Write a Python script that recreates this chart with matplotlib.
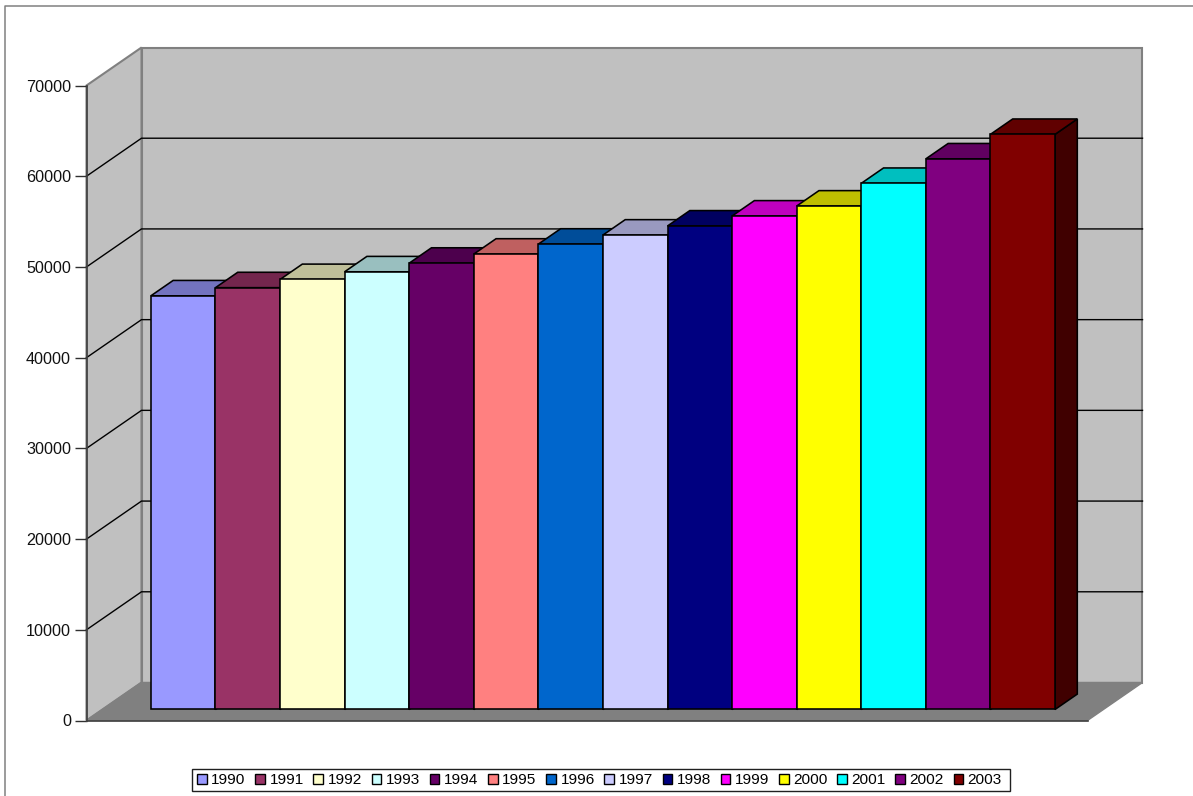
import matplotlib
matplotlib.use("Agg")
import matplotlib.pyplot as plt
from matplotlib.patches import Patch, Rectangle
from matplotlib.lines import Line2D

plt.rcParams['font.family'] = ['Liberation Sans', 'DejaVu Sans']

years = ['1990', '1991', '1992', '1993', '1994', '1995', '1996',
         '1997', '1998', '1999', '2000', '2001', '2002', '2003']
values = [45600, 46500, 47400, 48250, 49200, 50200, 51300,
          52300, 53300, 54400, 55500, 58000, 60700, 63400]
colors = ['#9999FF', '#993366', '#FFFFCC', '#CCFFFF', '#660066', '#FF8080', '#0066CC',
          '#CCCCFF', '#000080', '#FF00FF', '#FFFF00', '#00FFFF', '#800080', '#800000']
yticks = [0, 10000, 20000, 30000, 40000, 50000, 60000, 70000]

W, H = 1193, 796
fig = plt.figure(figsize=(W / 100, H / 100), dpi=100, facecolor='white')

# front plane of the 3D box, in pixels
L, R, T, B = 86.5, 1087.5, 85.5, 720.5
ax = fig.add_axes([L / W, 1 - B / H, (R - L) / W, (B - T) / H])
ax.patch.set_visible(False)
GAP = 0.75
XMAX = GAP * 2 + len(values)
ymax = yticks[-1]
ax.set_xlim(0, XMAX)
ax.set_ylim(0, ymax)

# depth vector of the whole box, in data units
DX = 55 / ((R - L) / XMAX)
DY = 38 / ((B - T) / ymax)
D1, D2 = 0.29, 0.695   # front and back of the bars inside the depth


def pt(x, y, d=0.0):
    return x + d * DX, y + d * DY


def poly(points, **kw):
    xs, ys = zip(*points)
    ax.fill(xs, ys, clip_on=False, **kw)


wall = dict(facecolor='#C0C0C0', edgecolor='#808080', linewidth=1.5, joinstyle='miter')
# back wall
poly([pt(0, 0, 1), pt(XMAX, 0, 1), pt(XMAX, ymax, 1), pt(0, ymax, 1)], zorder=1, **wall)
# left wall
poly([pt(0, 0, 0), pt(0, 0, 1), pt(0, ymax, 1), pt(0, ymax, 0)], zorder=1, **wall)
# floor
poly([pt(0, 0, 0), pt(XMAX, 0, 0), pt(XMAX, 0, 1), pt(0, 0, 1)], zorder=1.1,
     facecolor='#808080', edgecolor='#808080', linewidth=1.0)

# gridlines
for v in yticks[1:-1]:
    a, b, c = pt(0, v, 0), pt(0, v, 1), pt(XMAX, v, 1)
    ax.plot([a[0], b[0], c[0]], [a[1], b[1], c[1]], color='black', lw=1.0,
            clip_on=False, zorder=1.5, solid_joinstyle='miter')

# bars
edge = dict(edgecolor='black', linewidth=1.15, joinstyle='miter')
for i, (v, col) in enumerate(zip(values, colors)):
    x0 = GAP + i
    x1 = x0 + 1
    z = 2 + i * 0.01
    rgb = matplotlib.colors.to_rgb(col)
    top = tuple(c * 0.75 for c in rgb)
    side = tuple(c * 0.5 for c in rgb)
    poly([pt(x1, 0, D1), pt(x1, 0, D2), pt(x1, v, D2), pt(x1, v, D1)],
         facecolor=side, zorder=z, **edge)
    poly([pt(x0, v, D1), pt(x1, v, D1), pt(x1, v, D2), pt(x0, v, D2)],
         facecolor=top, zorder=z, **edge)
    fx, fb = pt(x0, 0, D1)
    ax.bar(fx, v, width=1, bottom=fb, align='edge', color=col, clip_on=False,
           zorder=z + 0.001, **edge)

# axes
for s in ('top', 'right'):
    ax.spines[s].set_visible(False)
for s in ('left', 'bottom'):
    ax.spines[s].set_color('#404040')
    ax.spines[s].set_linewidth(1.2)
ax.set_xticks([])
ax.set_yticks(yticks)
ax.set_yticklabels([str(v) for v in yticks], fontsize=11.6, color='#111111')
ax.tick_params(axis='y', length=9, width=1.0, color='#303030', pad=2.2)

# chart-area border (left and top only fall inside the picture)
fig.add_artist(Line2D([5.5 / W, 5.5 / W, 1], [0, 1 - 6.0 / H, 1 - 6.0 / H],
                      color='#808080', lw=1.1, transform=fig.transFigure))

# legend frame and entries
fig.add_artist(Rectangle((191.5 / W, 1 - 791 / H), 818 / W, 22 / H, facecolor='white',
                         edgecolor='#202020', linewidth=1.0, transform=fig.transFigure))
handles = [Patch(facecolor=c, edgecolor='black', linewidth=1.0, label=y)
           for c, y in zip(colors, years)]
leg = fig.legend(handles=handles, ncol=len(years), loc='center',
                 bbox_to_anchor=(599.5 / W, 1 - 780 / H), fontsize=11.1,
                 handlelength=0.62, handleheight=0.62, handletextpad=0.3,
                 columnspacing=0.63, borderpad=0, borderaxespad=0, frameon=False)
leg.set_zorder(5)

fig.savefig('out.png', dpi=100)
